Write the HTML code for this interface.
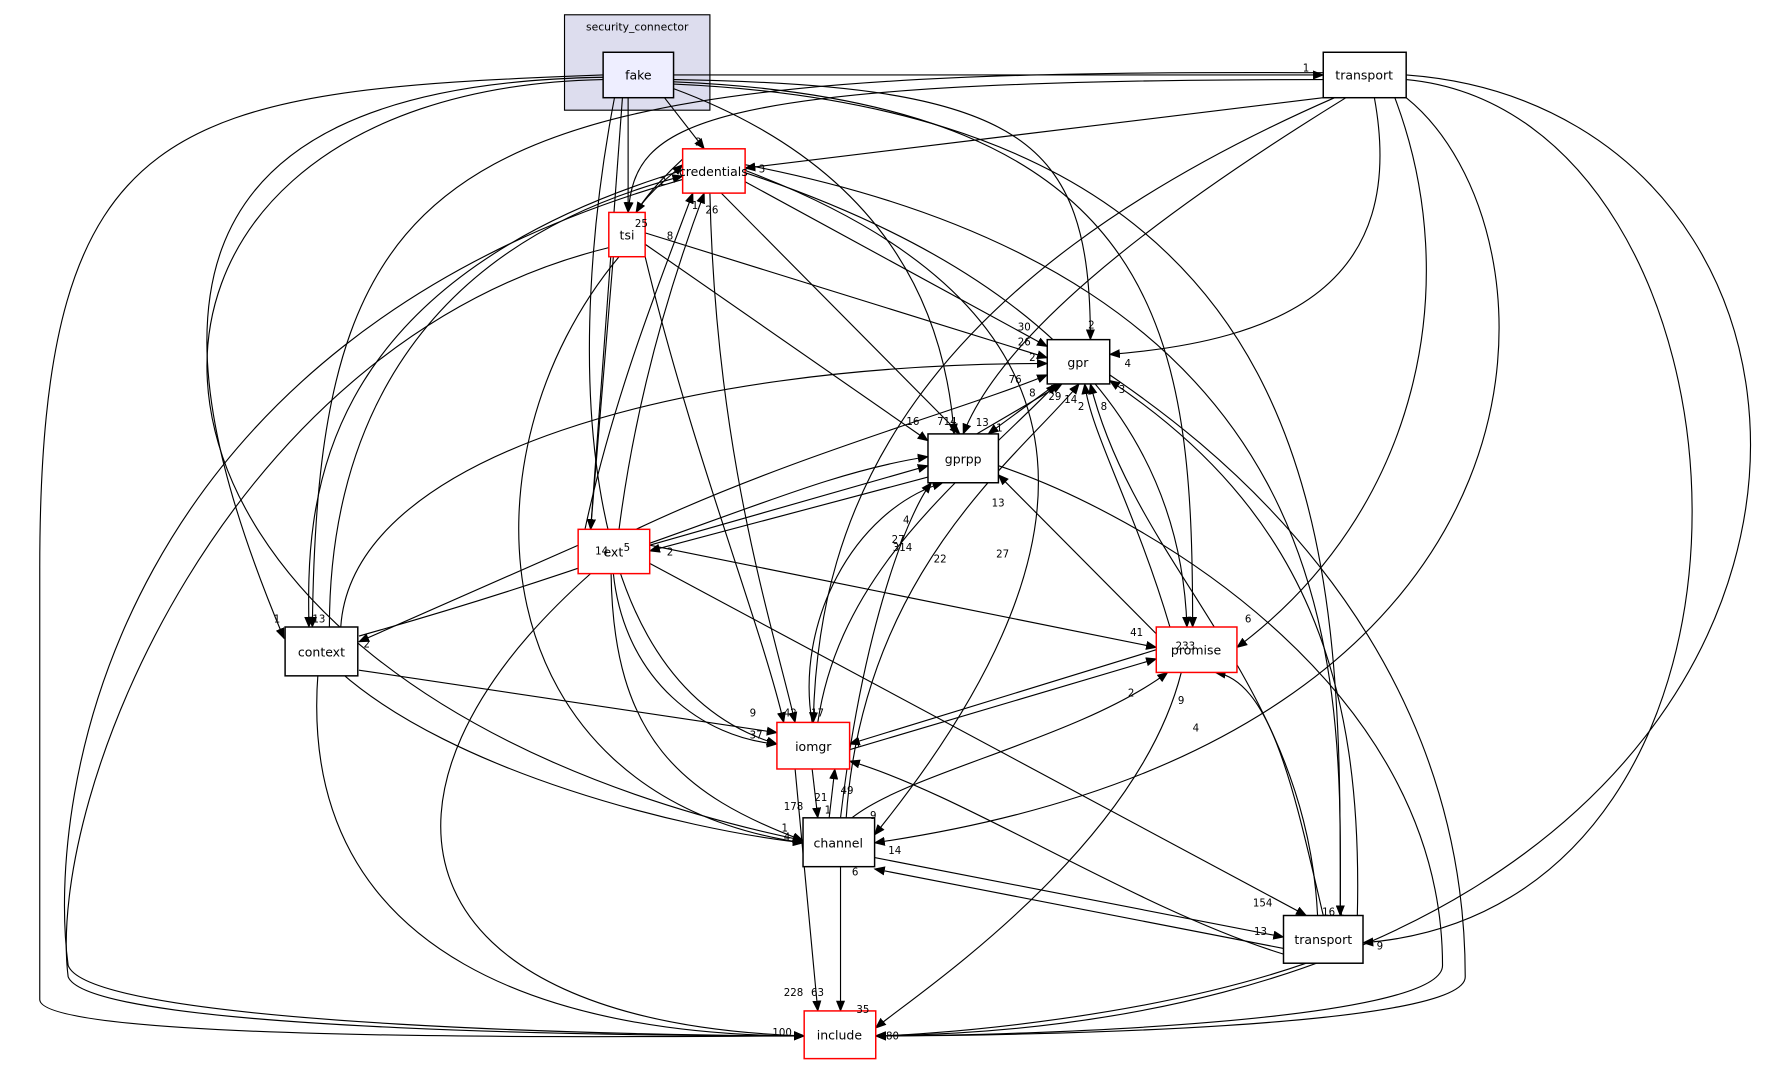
<!DOCTYPE html>
<html><head><meta charset="utf-8"><style>html,body{margin:0;padding:0;background:#fff}svg{display:block}</style></head>
<body>
<svg width="1781" height="1065" viewBox="0 0 1568 937.6" xmlns="http://www.w3.org/2000/svg" font-family="'DejaVu Sans','Liberation Sans',sans-serif">
<defs><marker id="a" markerWidth="10" markerHeight="8" refX="9" refY="4" orient="auto" markerUnits="userSpaceOnUse"><path d="M0,0L10,4L0,8z" fill="#000"/></marker></defs>
<rect x="497" y="13" width="128" height="84" fill="#ddddee" stroke="#000"/>
<text x="561" y="27" font-size="9.5" text-anchor="middle">security_connector</text>
<g fill="none" stroke="#000" stroke-width="1" marker-end="url(#a)">
<path d="M593,66L1165,66"/>
<path d="M585,86L620,131"/>
<path d="M553,86L553,187"/>
<path d="M548,86L520,466"/>
<path d="M541,86C500,300 500,600 684,655"/>
<path d="M593,78C760,140 830,250 840,382"/>
<path d="M593,70C900,75 960,120 960,299"/>
<path d="M593,72C1030,90 1050,300 1050,552"/>
<path d="M593,74C1190,100 1180,500 1180,806"/>
<path d="M531,68C120,75 140,300 250,562"/>
<path d="M531,70C40,80 40,600 707,740"/>
<path d="M531,66C150,80 35,100 35,500L35,880C35,920 600,912 708,912"/>
<path d="M1165,70C600,70 560,110 553,187"/>
<path d="M1165,86L656,148"/>
<path d="M1165,64C400,60 280,120 275,552"/>
<path d="M1175,86C800,250 720,450 716,636"/>
<path d="M1185,86C1000,200 880,300 848,382"/>
<path d="M1210,86C1240,250 1130,300 977,312"/>
<path d="M1228,86C1290,250 1250,450 1089,570"/>
<path d="M1238,86C1380,200 1400,650 770,742"/>
<path d="M1238,70C1560,100 1600,800 1200,830"/>
<path d="M1238,66C1700,100 1700,900 771,912"/>
<path d="M601,140C590,150 570,170 560,187"/>
<path d="M560,187C570,170 590,155 601,145"/>
<path d="M601,150C270,250 270,450 272,552"/>
<path d="M290,552C290,400 350,220 601,155"/>
<path d="M635,170L845,382"/>
<path d="M656,160L922,305"/>
<path d="M625,170C630,400 680,550 700,636"/>
<path d="M656,152C950,250 1040,400 1045,552"/>
<path d="M656,150C1000,280 960,500 770,735"/>
<path d="M656,145C1200,250 1180,600 1180,806"/>
<path d="M601,158C100,300 40,700 60,850C80,905 600,912 708,912"/>
<path d="M568,205L922,315"/>
<path d="M568,215L817,388"/>
<path d="M540,226L520,466"/>
<path d="M568,226C610,400 670,550 690,636"/>
<path d="M545,226C400,400 420,700 707,742"/>
<path d="M536,218C200,300 40,700 60,860C80,910 600,912 708,912"/>
<path d="M515,466C540,350 580,250 610,170"/>
<path d="M545,466C560,350 590,250 620,170"/>
<path d="M572,480L817,410"/>
<path d="M817,420L572,485"/>
<path d="M509,480L316,565"/>
<path d="M572,480L1018,570"/>
<path d="M540,505C550,600 620,650 684,655"/>
<path d="M538,505C540,650 600,700 707,740"/>
<path d="M572,496L1150,806"/>
<path d="M520,505C300,700 350,900 708,912"/>
<path d="M560,466C700,400 850,360 922,330"/>
<path d="M300,552C310,400 600,320 922,320"/>
<path d="M316,560C600,480 700,420 817,402"/>
<path d="M316,590L684,645"/>
<path d="M300,592C400,680 600,730 707,742"/>
<path d="M280,592C260,850 500,912 708,912"/>
<path d="M860,382L935,338"/>
<path d="M930,338L870,382"/>
<path d="M879,410C1000,450 1270,600 1270,850C1270,900 900,912 771,912"/>
<path d="M1030,552C1000,450 960,380 955,338"/>
<path d="M1020,560L879,418"/>
<path d="M1018,572L748,655"/>
<path d="M748,660L1018,580"/>
<path d="M1040,592C1000,750 800,880 771,905"/>
<path d="M720,636C740,500 850,420 930,338"/>
<path d="M715,636C700,550 750,450 830,425"/>
<path d="M715,677L720,720"/>
<path d="M730,720L735,677"/>
<path d="M700,677L720,890"/>
<path d="M740,720C760,550 800,450 820,425"/>
<path d="M745,720C760,500 900,400 950,338"/>
<path d="M750,720C800,680 950,650 1028,592"/>
<path d="M740,763L740,890"/>
<path d="M770,755L1130,825"/>
<path d="M1130,835L770,765"/>
<path d="M1160,806C1150,600 1000,500 960,338"/>
<path d="M1165,806C1140,700 1120,600 1070,592"/>
<path d="M1130,840C1000,800 850,700 748,670"/>
<path d="M1150,848C1000,900 800,912 771,912"/>
<path d="M977,330C1050,380 1290,550 1290,860C1290,905 900,912 771,912"/>
<path d="M1195,806C1200,600 1150,450 977,335"/>
</g>
<g stroke="#000" stroke-width="1.3">
<rect x="531" y="46" width="62" height="40" fill="#eeeeff"/>
<rect x="1165" y="46" width="73" height="40" fill="#fff"/>
<rect x="601" y="131" width="55" height="39" fill="#fff" stroke="#f00"/>
<rect x="536" y="187" width="32" height="39" fill="#fff" stroke="#f00"/>
<rect x="922" y="299" width="55" height="39" fill="#fff"/>
<rect x="817" y="382" width="62" height="43" fill="#fff"/>
<rect x="509" y="466" width="63" height="39" fill="#fff" stroke="#f00"/>
<rect x="251" y="552" width="64" height="43" fill="#fff"/>
<rect x="1018" y="552" width="71" height="40" fill="#fff" stroke="#f00"/>
<rect x="684" y="636" width="64" height="41" fill="#fff" stroke="#f00"/>
<rect x="707" y="720" width="63" height="43" fill="#fff"/>
<rect x="1130" y="806" width="70" height="42" fill="#fff"/>
<rect x="708" y="890" width="63" height="42" fill="#fff" stroke="#f00"/>
</g>
<g font-size="11" text-anchor="middle">
<text x="562" y="70">fake</text>
<text x="1201" y="70">transport</text>
<text x="628" y="155">credentials</text>
<text x="552" y="211">tsi</text>
<text x="949" y="323">gpr</text>
<text x="848" y="408">gprpp</text>
<text x="540" y="490">ext</text>
<text x="283" y="578">context</text>
<text x="1053" y="576">promise</text>
<text x="716" y="661">iomgr</text>
<text x="738" y="746">channel</text>
<text x="1165" y="831">transport</text>
<text x="739" y="915">include</text>
</g>
<g font-size="9">
<text x="1147" y="63">1</text><text x="612" y="128">2</text><text x="668" y="152">3</text>
<text x="581" y="163">2</text><text x="609" y="184">1</text><text x="587" y="211">8</text><text x="621" y="188">26</text>
<text x="559" y="200">25</text><text x="896" y="291">30</text><text x="896" y="304">26</text><text x="906" y="318">2</text>
<text x="888" y="337">76</text><text x="958" y="289">2</text><text x="990" y="323">4</text><text x="906" y="349">8</text>
<text x="923" y="352">29</text><text x="937" y="355">14</text><text x="949" y="361">2</text><text x="969" y="361">8</text>
<text x="985" y="346">3</text><text x="798" y="374">16</text><text x="825" y="374">714</text><text x="859" y="375">13</text>
<text x="877" y="380">1</text><text x="795" y="461">4</text><text x="786" y="485">314</text><text x="785" y="478">27</text>
<text x="822" y="495">22</text><text x="877" y="491">27</text><text x="873" y="446">13</text>
<text x="524" y="488">14</text><text x="549" y="485">5</text><text x="587" y="489">2</text><text x="320" y="570">2</text>
<text x="241" y="548">1</text><text x="275" y="548">13</text><text x="995" y="560">41</text><text x="993" y="613">2</text>
<text x="1037" y="620">9</text><text x="1035" y="572">233</text><text x="1096" y="548">6</text><text x="1050" y="644">4</text>
<text x="660" y="631">9</text><text x="690" y="631">42</text><text x="714" y="631">17</text><text x="660" y="650">37</text>
<text x="752" y="657">4</text><text x="690" y="713">178</text><text x="717" y="705">21</text><text x="726" y="716">1</text>
<text x="740" y="699">49</text><text x="766" y="721">9</text><text x="782" y="752">14</text><text x="750" y="771">6</text>
<text x="688" y="732">1</text><text x="690" y="740">4</text><text x="1103" y="798">154</text><text x="1104" y="823">13</text>
<text x="1164" y="806">16</text><text x="1178" y="806">1</text><text x="1212" y="836">9</text>
<text x="690" y="877">228</text><text x="714" y="877">63</text><text x="754" y="892">35</text>
<text x="680" y="912">100</text><text x="780" y="915">80</text>
</g>
</svg>
</body></html>
